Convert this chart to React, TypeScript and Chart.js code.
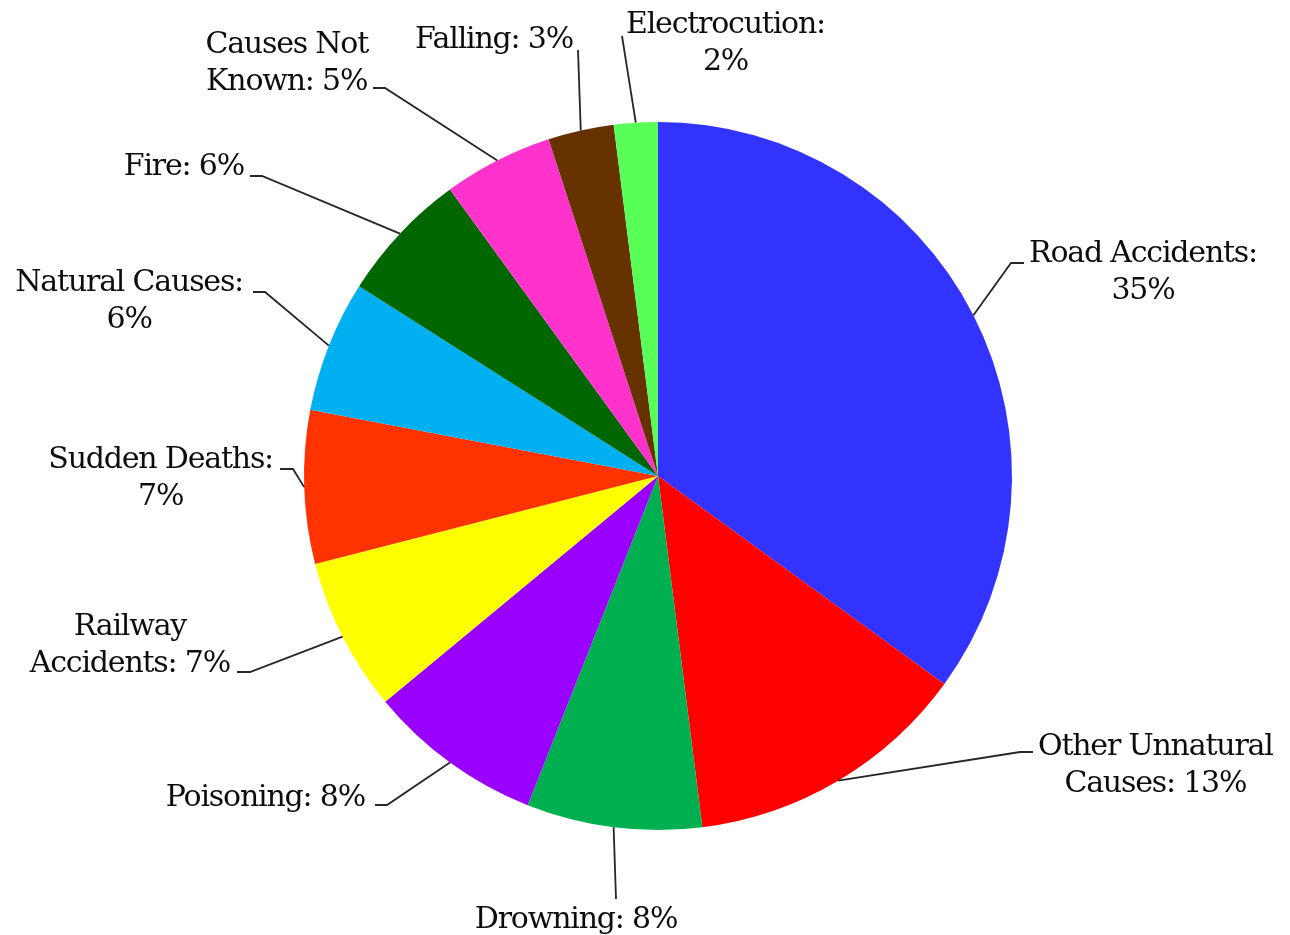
import React, { useEffect, useRef } from 'react';
import { Chart, registerables } from 'chart.js';

Chart.register(...registerables);

// ---- data ----
const categories = [
  'Road Accidents',
  'Other Unnatural Causes',
  'Drowning',
  'Poisoning',
  'Railway Accidents',
  'Sudden Deaths',
  'Natural Causes',
  'Fire',
  'Causes Not Known',
  'Falling',
  'Electrocution',
];
const shares = [35, 13, 8, 8, 7, 7, 6, 6, 5, 3, 2];
const sliceColors = [
  '#3333FF',
  '#FF0000',
  '#00B050',
  '#9900FF',
  '#FFFF00',
  '#FF3300',
  '#00B0F0',
  '#006600',
  '#FF33CC',
  '#663300',
  '#57FF57',
];
// number of words on the first line of each label (0 = single line)
const lineBreaks = [2, 2, 0, 0, 1, 2, 2, 0, 2, 0, 1];

// ---- label layout (offsets from pie centre, at a reference radius of 354px) ----
type Place = {
  align: 'left' | 'right' | 'center';
  x: number;
  y: number;
  elbow: [number, number];
  stub: [number, number];
};
const REF_RADIUS = 354;
const LINE_HEIGHT = 37;
const FONT_SIZE = 30;
const labelPlaces: Place[] = [
  { align: 'left', x: 371, y: -214, elbow: [353, -213], stub: [366, -213] },
  { align: 'left', x: 380, y: 279, elbow: [362, 276], stub: [375, 276] },
  { align: 'center', x: -82, y: 452, elbow: [-42, 423], stub: [-42, 423] },
  { align: 'right', x: -293, y: 330, elbow: [-271, 329], stub: [-283, 329] },
  { align: 'right', x: -428, y: 159, elbow: [-408, 196], stub: [-421, 196] },
  { align: 'right', x: -385, y: -8, elbow: [-365, -7], stub: [-378, -7] },
  { align: 'right', x: -415, y: -185, elbow: [-393, -184], stub: [-405, -184] },
  { align: 'right', x: -414, y: -301, elbow: [-396, -300], stub: [-408, -300] },
  { align: 'right', x: -290, y: -423, elbow: [-273, -388], stub: [-285, -388] },
  { align: 'right', x: -85, y: -428, elbow: [-80, -426], stub: [-80, -426] },
  { align: 'left', x: -32, y: -443, elbow: [-36, -440], stub: [-36, -440] },
];

const outsideLabels = {
  id: 'outsideLabels',
  afterDatasetsDraw(chart: any) {
    const meta = chart.getDatasetMeta(0);
    const ctx: CanvasRenderingContext2D = chart.ctx;
    ctx.save();
    meta.data.forEach((arc: any, i: number) => {
      const { x, y, startAngle, endAngle, outerRadius } = arc.getProps(
        ['x', 'y', 'startAngle', 'endAngle', 'outerRadius'],
        true
      );
      const k = outerRadius / REF_RADIUS;
      const mid = (startAngle + endAngle) / 2;
      const px = x + Math.cos(mid) * outerRadius;
      const py = y + Math.sin(mid) * outerRadius;
      const p = labelPlaces[i];
      const ex = x + p.elbow[0] * k;
      const ey = y + p.elbow[1] * k;
      const sx = x + p.stub[0] * k;
      const sy = y + p.stub[1] * k;
      ctx.beginPath();
      ctx.moveTo(px, py);
      ctx.lineTo(ex, ey);
      ctx.lineTo(sx, sy);
      ctx.strokeStyle = '#262626';
      ctx.lineWidth = 1.8;
      ctx.stroke();

      const words = `${categories[i]}: ${shares[i]}%`.split(' ');
      const b = lineBreaks[i];
      const lines = b > 0 ? [words.slice(0, b).join(' '), words.slice(b).join(' ')] : [words.join(' ')];
      ctx.font = `${FONT_SIZE * k}px "DejaVu Serif"`;
      (ctx as any).letterSpacing = '-1.2px';
      const w = Math.max(...lines.map((l) => ctx.measureText(l).width));
      const ax = x + p.x * k;
      const cx = p.align === 'left' ? ax + w / 2 : p.align === 'right' ? ax - w / 2 : ax;
      ctx.textAlign = 'center';
      ctx.textBaseline = 'alphabetic';
      ctx.fillStyle = '#0d0d0d';
      lines.forEach((l, j) => ctx.fillText(l, cx, y + (p.y + j * LINE_HEIGHT) * k));
    });
    ctx.restore();
  },
};

export default function App() {
  const canvasRef = useRef<HTMLCanvasElement | null>(null);
  useEffect(() => {
    if (!canvasRef.current) return;
    const chart = new Chart(canvasRef.current, {
      type: 'pie',
      data: {
        labels: categories,
        datasets: [
          {
            data: shares,
            backgroundColor: sliceColors,
            borderWidth: 0,
            radius: REF_RADIUS,
          } as any,
        ],
      },
      options: {
        animation: false,
        responsive: true,
        maintainAspectRatio: false,
        events: [],
        layout: { padding: { left: 26, top: 17, right: 0, bottom: 0 } },
        plugins: {
          legend: { display: false },
          tooltip: { enabled: false },
        },
      },
      plugins: [outsideLabels],
    });
    return () => chart.destroy();
  }, []);
  return (
    <div style={{ position: 'fixed', left: 0, top: 0, width: 1290, height: 935, background: '#fff' }}>
      <canvas ref={canvasRef} />
    </div>
  );
}
